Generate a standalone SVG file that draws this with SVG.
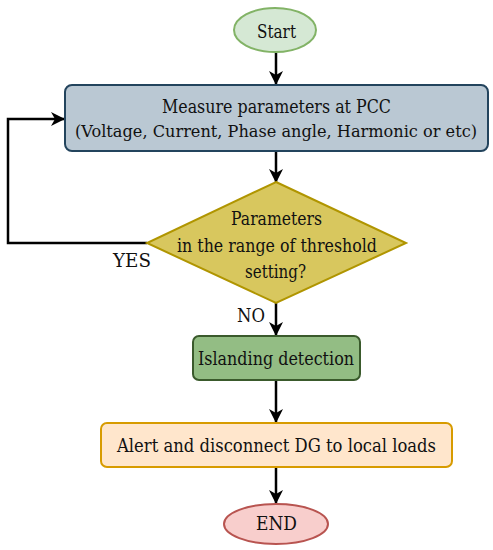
<svg xmlns="http://www.w3.org/2000/svg" width="493" height="550" viewBox="0 0 493 550">
<style>
text{font-family:"DejaVu Serif","Liberation Serif",serif;font-size:19px;fill:#111;text-anchor:middle}
.c{fill:none;stroke:#000;stroke-width:2.5;marker-end:url(#ah)}
</style>
<defs>
<marker id="ah" markerWidth="14" markerHeight="14" viewBox="0 0 14 14" refX="13" refY="7" orient="auto" markerUnits="userSpaceOnUse">
<path d="M0,0 L14,7 L0,14 L4,7 Z" fill="#000"/>
</marker>
</defs>
<rect width="493" height="550" fill="#fff"/>
<g id="connectors">
<path class="c" d="M276,53 V84"/>
<path class="c" d="M276,151 V182"/>
<path class="c" d="M147,243 H8 V119 H64"/>
<path class="c" d="M276,303 V335"/>
<path class="c" d="M276,380 V422"/>
<path class="c" d="M276,467 V503"/>
</g>
<g id="start">
<ellipse cx="275" cy="30" rx="41" ry="22" fill="#d5e8d4" stroke="#82b366" stroke-width="2"/>
<text x="276.5" y="38" textLength="39" lengthAdjust="spacingAndGlyphs">Start</text>
</g>
<g id="measure">
<rect x="65" y="85" width="423" height="66" rx="7" fill="#bac8d3" stroke="#23445d" stroke-width="2"/>
<text x="276.5" y="113" textLength="229" lengthAdjust="spacingAndGlyphs">Measure parameters at PCC</text>
<text x="276" y="137" style="font-size:17px" textLength="402" lengthAdjust="spacingAndGlyphs">(Voltage, Current, Phase angle, Harmonic or etc)</text>
</g>
<g id="decision">
<polygon points="276,182 406,243 276,303 147,243" fill="#d8c75e" stroke="#b09500" stroke-width="2"/>
<text x="276.5" y="225" textLength="91" lengthAdjust="spacingAndGlyphs">Parameters</text>
<text x="277" y="252" textLength="200" lengthAdjust="spacingAndGlyphs">in the range of threshold</text>
<text x="275.5" y="278" textLength="61" lengthAdjust="spacingAndGlyphs">setting?</text>
</g>
<text x="132" y="267" textLength="38" lengthAdjust="spacingAndGlyphs">YES</text>
<text x="251" y="322" textLength="28" lengthAdjust="spacingAndGlyphs">NO</text>
<g id="islanding">
<rect x="193" y="336" width="167" height="44" rx="6" fill="#93bd84" stroke="#3a5a2c" stroke-width="2"/>
<text x="276" y="365" textLength="156" lengthAdjust="spacingAndGlyphs">Islanding detection</text>
</g>
<g id="alert">
<rect x="101" y="423" width="351" height="44" rx="6" fill="#ffe6cc" stroke="#d79b00" stroke-width="2"/>
<text x="276.5" y="452" textLength="319" lengthAdjust="spacingAndGlyphs">Alert and disconnect DG to local loads</text>
</g>
<g id="end">
<ellipse cx="276" cy="524" rx="52" ry="20" fill="#f8cecc" stroke="#b85450" stroke-width="2"/>
<text x="276.5" y="530" textLength="41" lengthAdjust="spacingAndGlyphs">END</text>
</g>
</svg>
